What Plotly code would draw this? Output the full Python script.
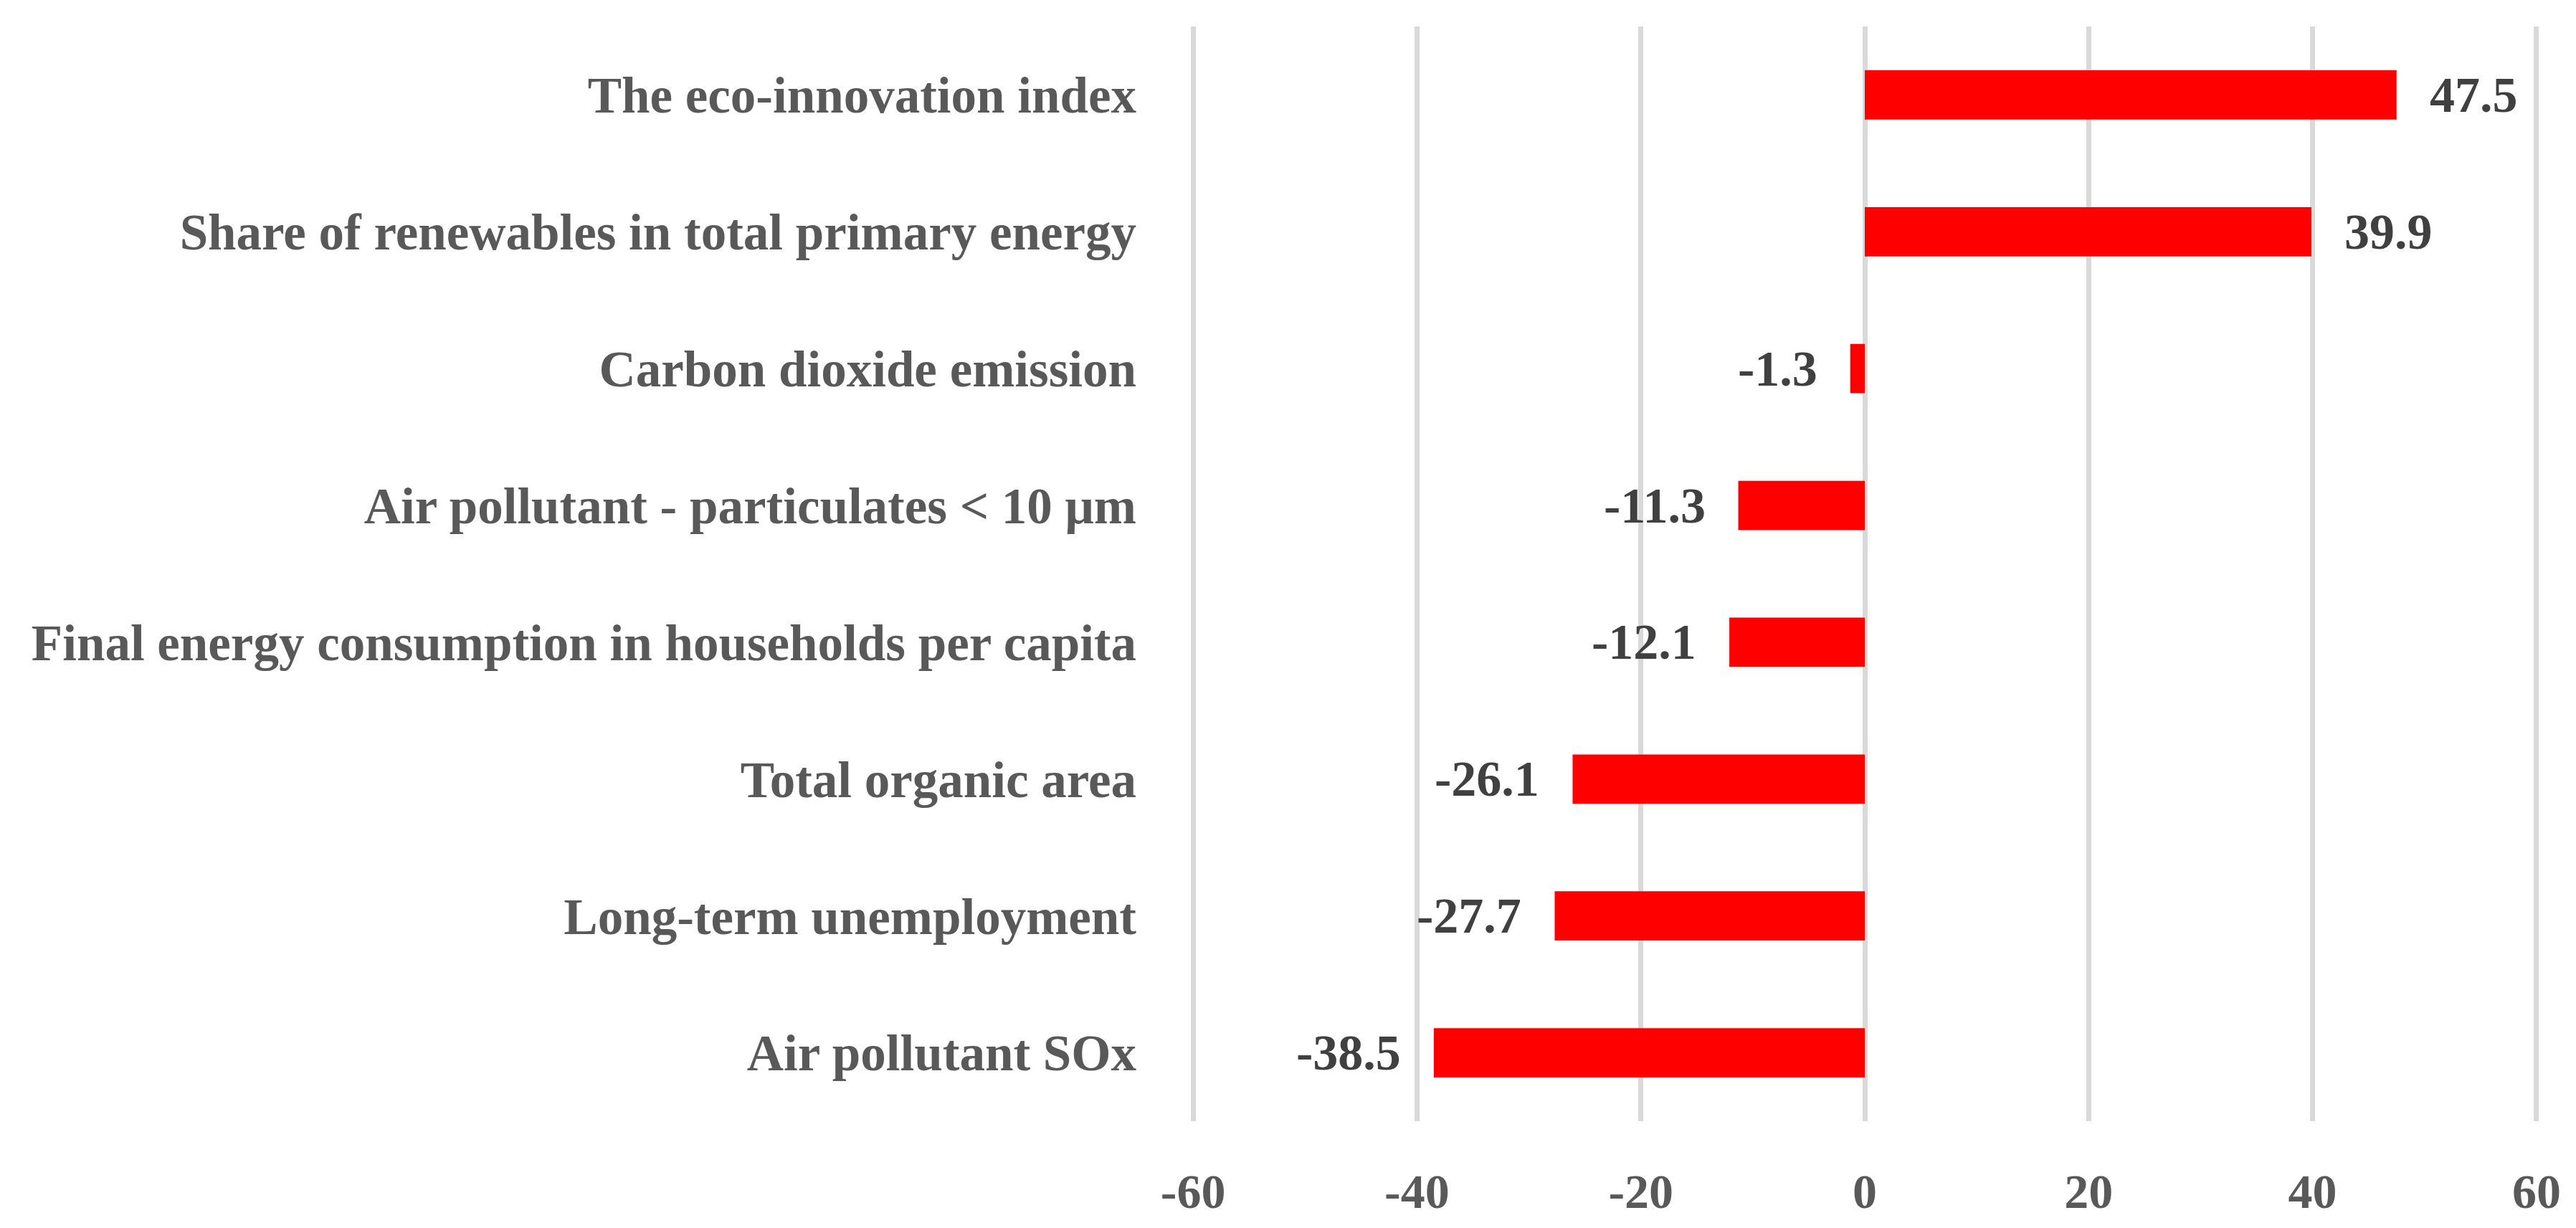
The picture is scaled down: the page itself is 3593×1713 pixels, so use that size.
import plotly.graph_objects as go

categories = [
    "The eco-innovation index",
    "Share of renewables in total primary energy",
    "Carbon dioxide emission",
    "Air pollutant - particulates < 10 μm",
    "Final energy consumption in households per capita",
    "Total organic area",
    "Long-term unemployment",
    "Air pollutant SOx",
]
values = [47.5, 39.9, -1.3, -11.3, -12.1, -26.1, -27.7, -38.5]
x_ticks = [-60, -40, -20, 0, 20, 40, 60]

FONT = "Palatino Linotype, Book Antiqua, Palatino, Liberation Serif, serif"

fig = go.Figure()
fig.add_trace(go.Bar(
    x=values,
    y=categories,
    orientation="h",
    marker=dict(color="#ff0000", line=dict(width=0)),
    width=0.36,
    hoverinfo="skip",
))

for c, v in zip(categories, values):
    fig.add_annotation(
        x=v, y=c, xref="x", yref="y",
        text=f"<b>{v:.1f}</b>",
        showarrow=False,
        xanchor="left" if v >= 0 else "right",
        xshift=44 if v >= 0 else -44,
        font=dict(family=FONT, size=70, color="#404040"),
    )

fig.update_layout(
    width=3593, height=1713,
    margin=dict(l=1653, r=60, t=29, b=157),
    paper_bgcolor="white",
    plot_bgcolor="white",
    showlegend=False,
    font=dict(family=FONT, color="#595959"),
)
fig.update_xaxes(
    range=[-60.2, 60.2],
    tickvals=x_ticks,
    ticktext=[f"<b>{t}</b>" for t in x_ticks],
    showgrid=True, gridcolor="#d9d9d9", gridwidth=7,
    zeroline=True, zerolinecolor="#d9d9d9", zerolinewidth=7,
    showline=False, ticks="",
    tickfont=dict(family=FONT, size=68, color="#595959"),
    ticklabelstandoff=52,
)
fig.update_yaxes(
    categoryorder="array", categoryarray=categories,
    autorange="reversed",
    showgrid=False, zeroline=False, showline=False, ticks="",
    tickfont=dict(family=FONT, size=71, color="#595959"),
    ticklabelstandoff=75,
)
fig.update_yaxes(ticktext=[f"<b>{c}</b>" for c in categories], tickvals=categories)

fig.write_html("out.html")
